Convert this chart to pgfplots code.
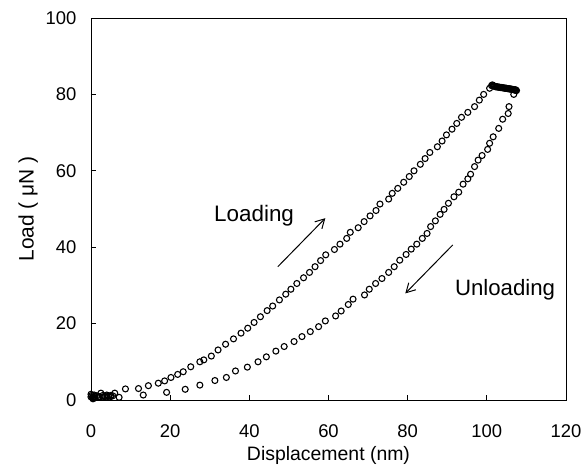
\documentclass[border=0pt]{standalone}
\usepackage{pgfplots}
\pgfplotsset{compat=1.18}
\usetikzlibrary{arrows.meta}
\usepackage{fontspec}
\setmainfont{Liberation Sans}

% loading branch (incl. hold at peak)
\pgfplotstableread{
x y
0 1.5
0.2 1.2
0.4 0.6
0.5 0.8
0.8 1.3
1 1.0
1.5 1.1
2 0.9
2.5 1.8
3 1.2
3.5 1.0
4 1.3
4.5 1.0
5 1.2
5.5 1.1
6 1.8
8.7 2.9
12 3.0
14.5 3.75
17 4.4
18.6 5.0
20.2 5.9
21.9 6.7
23.3 7.4
25.2 8.7
27.5 10.0
28.5 10.5
30.4 11.5
32.1 13.1
34 14.6
36 16.0
37.9 17.5
39.6 18.8
41.2 20.3
42.8 21.8
44.5 23.4
45.9 24.6
47.6 26.2
49.2 27.7
50.5 29.0
52 30.5
53.7 32.0
55.2 33.4
56.6 34.9
58 36.5
59.3 38.0
61.5 39.4
62.9 40.8
64.6 42.3
65.5 43.9
67.5 45.1
69 46.7
70.5 48.2
72 49.6
73 51.3
75.2 52.6
76.1 54.1
77.5 55.4
79 57.0
80.4 58.5
81.6 60.0
83.2 61.7
84.4 63.2
85.6 64.8
87.5 66.3
88.7 67.8
89.8 69.4
91.2 70.9
92.4 72.4
93.6 74.0
95.2 75.3
96.9 76.8
98.1 78.5
99.2 80.0
100.7 81.6
101.2 82.3
101.4 82.5
101.6 82.3
101.8 82.2
102.0 82.1
102.2 82.0
102.4 82.0
102.6 82.0
102.8 81.9
103 81.9
103.2 81.9
103.4 81.8
103.6 81.8
103.8 81.8
104.0 81.7
104.2 81.7
104.4 81.7
104.6 81.6
104.8 81.6
105 81.6
105.2 81.5
105.4 81.5
105.6 81.5
105.8 81.4
106.0 81.4
106.2 81.4
106.4 81.3
106.6 81.3
106.8 81.2
107 81.2
107.2 81.1
107.3 81.1
107.5 81.0
}\loading

% unloading branch
\pgfplotstableread{
x y
107.3 81.2
106.8 80.0
105.6 76.8
105.4 75.0
104 73.5
103 71.1
101.6 68.9
100.7 67.2
100.2 65.6
98.8 64.0
97.8 62.8
96.9 61.1
95.9 59.1
95.2 57.9
94 56.5
92.9 54.4
91.7 53.2
90.3 51.5
89.2 49.9
88.2 48.6
87 46.9
85.8 45.4
84.9 43.6
83.7 42.3
82.3 40.8
80.9 39.5
79.6 38.1
78 36.6
76.6 34.9
75.2 33.4
73.5 31.8
71.9 30.5
70.3 29.0
69.1 27.5
66.2 26.4
65 25.0
63.2 23.3
61.8 22.0
59.2 20.7
57.5 19.2
55.4 17.9
53.3 16.6
51.3 15.3
48.8 14.0
46.7 12.8
44.3 11.3
42.2 10.0
39.5 8.6
36.5 7.6
34.2 5.9
31.3 5.1
27.5 3.9
23.8 2.8
19.1 2.0
13.2 1.3
7.1 0.7
5 0.9
4 0.8
3 0.8
2 0.7
1 0.6
0.5 0.3
0 0.8
}\unloading

\begin{document}
\begin{tikzpicture}
\begin{axis}[
  scale only axis,
  width=475bp, height=382bp,
  xmin=0, xmax=120, ymin=0, ymax=100,
  xtick={0,20,...,120}, ytick={0,20,...,100},
  tick align=inside,
  major tick length=5bp,
  xtick pos=bottom, ytick pos=left,
  axis line style={line width=0.8pt},
  tick style={line width=0.8pt, black},
  /pgf/number format/assume math mode=true,
  tick label style={font=\fontsize{18.5}{21}\selectfont},
  xticklabel style={yshift=-21bp},
  yticklabel style={xshift=-11bp},
  xlabel={Displacement (nm)},
  ylabel={Load ( μN )},
  xlabel style={font=\fontsize{19.5}{22}\selectfont, yshift=-2bp},
  ylabel style={font=\fontsize{21}{24}\selectfont, yshift=1bp},
  clip=false,
]
\addplot[only marks, mark=o, mark size=3bp, line width=1.1pt, black] table[x=x,y=y] {\loading};
\addplot[only marks, mark=o, mark size=3bp, line width=1.1pt, black] table[x=x,y=y] {\unloading};
\node[font=\fontsize{22.5}{26}\selectfont] at (axis cs:41.2,48.2) {Loading};
\node[font=\fontsize{22.3}{26}\selectfont] at (axis cs:104.6,28.8) {Unloading};
\draw[-{Straight Barb[length=9bp,width=10bp]}, line width=1pt] (axis cs:47.2,34.9) -- (axis cs:59.2,47.6);
\draw[-{Straight Barb[length=9bp,width=10bp]}, line width=1pt] (axis cs:91.4,40.6) -- (axis cs:79.4,27.9);
\end{axis}
\pgfresetboundingbox
\path ([xshift=-91bp,yshift=-66bp]current axis.south west) rectangle ([xshift=17bp,yshift=18bp]current axis.north east);
\end{tikzpicture}
\end{document}
